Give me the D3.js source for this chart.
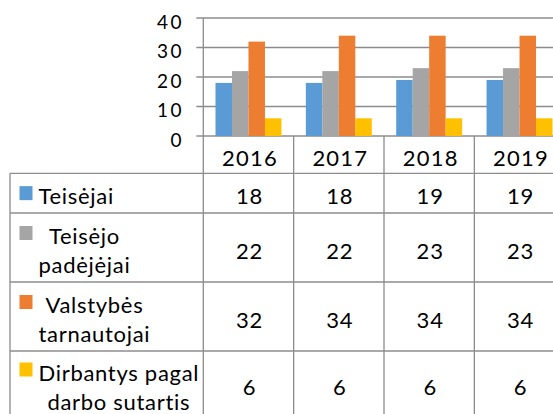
<!DOCTYPE html>
<html>
<head>
<meta charset="utf-8">
<script src="https://cdn.jsdelivr.net/npm/d3@7"></script>
<style>
  html, body { margin: 0; padding: 0; background: #fff; }
  svg { display: block; font-family: Lato, "Noto Sans", sans-serif; }
</style>
</head>
<body>
<svg id="chart" width="553" height="414"></svg>
<script>
// ---- data ----
const years = ["2016", "2017", "2018", "2019"];
const seriesNames = ["Teisėjai", "Teisėjo padėjėjai", "Valstybės tarnautojai", "Dirbantys pagal darbo sutartis"];
const seriesLines = [["Teisėjai"], ["Teisėjo", "padėjėjai"], ["Valstybės", "tarnautojai"], ["Dirbantys pagal", "darbo sutartis"]];
const teisejai = [18, 18, 19, 19];
const padejejai = [22, 22, 23, 23];
const valstybesTarnautojai = [32, 34, 34, 34];
const darboSutartis = [6, 6, 6, 6];
const yTicks = [0, 10, 20, 30, 40];
const colors = ["#5B9BD5", "#A5A5A5", "#ED7D31", "#FFC000"];

const seriesValues = [teisejai, padejejai, valstybesTarnautojai, darboSutartis];

// ---- layout ----
const W = 553, H = 414;
const axisX = 203.3;
const catW = 90.35;
const yTop = 18, yBottom = 136;
const tableLeft = 10;
const rowEdges = [136, 173.3, 213, 282, 351, 417];
const lineColor = "#8C8C8C";

const svg = d3.select("#chart");

const x0 = d3.scaleBand().domain(years).range([axisX, axisX + catW * years.length]).paddingInner(0).paddingOuter(0);
const x1 = d3.scaleBand().domain(d3.range(seriesNames.length)).range([0, x0.bandwidth()]).paddingInner(0).paddingOuter(0.74);
const y = d3.scaleLinear().domain([0, 40]).range([yBottom, yTop]);

// gridlines + outward tick marks
const grid = svg.append("g");
grid.selectAll("line").data(yTicks).join("line")
  .attr("x1", axisX - 7).attr("x2", W)
  .attr("y1", d => y(d)).attr("y2", d => y(d))
  .attr("stroke", lineColor).attr("stroke-width", 1.3);

// y labels
svg.append("g").selectAll("text").data(yTicks).join("text")
  .attr("x", 184).attr("y", d => y(d) + 10.5)
  .attr("text-anchor", "end")
  .attr("font-size", 19)
  .attr("letter-spacing", 2.5)
  .attr("fill", "#000")
  .text(d => d);

// bars
const groups = svg.append("g").selectAll("g").data(years).join("g")
  .attr("transform", d => `translate(${x0(d)},0)`);
groups.selectAll("rect")
  .data((yr, i) => seriesValues.map((vals, s) => ({ s, v: vals[i] })))
  .join("rect")
  .attr("x", d => x1(d.s))
  .attr("width", x1.bandwidth())
  .attr("y", d => y(d.v))
  .attr("height", d => y(0) - y(d.v))
  .attr("fill", d => colors[d.s]);

// axis line (vertical)
svg.append("line")
  .attr("x1", axisX).attr("x2", axisX)
  .attr("y1", y(40)).attr("y2", H)
  .attr("stroke", lineColor).attr("stroke-width", 1.3);

// table: vertical category lines
const catEdges = years.map(d => x0(d)).concat([x0(years[years.length - 1]) + x0.bandwidth()]);
svg.append("g").selectAll("line").data(catEdges.slice(1)).join("line")
  .attr("x1", d => d).attr("x2", d => d)
  .attr("y1", rowEdges[0]).attr("y2", H)
  .attr("stroke", lineColor).attr("stroke-width", 1.3);
// table left border
svg.append("line")
  .attr("x1", tableLeft).attr("x2", tableLeft)
  .attr("y1", rowEdges[1]).attr("y2", H)
  .attr("stroke", lineColor).attr("stroke-width", 1.3);
// table horizontal lines
svg.append("g").selectAll("line").data(rowEdges.slice(1, 5)).join("line")
  .attr("x1", tableLeft).attr("x2", W)
  .attr("y1", d => d).attr("y2", d => d)
  .attr("stroke", lineColor).attr("stroke-width", 1.3);

// year labels
svg.append("g").selectAll("text").data(years).join("text")
  .attr("x", d => x0(d) + x0.bandwidth() / 2 + 1.5)
  .attr("y", (rowEdges[0] + rowEdges[1]) / 2 + 11)
  .attr("text-anchor", "middle")
  .attr("font-size", 22)
  .attr("letter-spacing", 1.2)
  .attr("fill", "#000")
  .text(d => d);

// values
seriesValues.forEach((vals, s) => {
  const cy = (rowEdges[s + 1] + rowEdges[s + 2]) / 2;
  svg.append("g").selectAll("text").data(vals).join("text")
    .attr("x", (d, i) => x0(years[i]) + x0.bandwidth() / 2 + 1)
    .attr("y", cy + 11)
    .attr("text-anchor", "middle")
    .attr("font-size", 22)
    .attr("letter-spacing", 0.8)
    .attr("fill", "#000")
    .text(d => d);
});

// legend cells
const textLeft = 38.5;
const lineH = 29;
seriesLines.forEach((lines, s) => {
  const cy = (rowEdges[s + 1] + rowEdges[s + 2]) / 2;
  const firstBase = cy - (lines.length - 1) * lineH / 2 + 11;
  const g = svg.append("g");
  const texts = g.selectAll("text").data(lines).join("text")
    .attr("y", (d, i) => firstBase + i * lineH)
    .attr("font-size", 22)
    .attr("letter-spacing", 0.7)
    .attr("fill", "#000")
    .attr("text-anchor", "middle")
    .text(d => d);
  let maxW = 0;
  texts.each(function () { maxW = Math.max(maxW, this.getComputedTextLength()); });
  texts.attr("x", textLeft + maxW / 2);
  g.append("rect")
    .attr("x", 19.5).attr("y", firstBase - 18)
    .attr("width", 13).attr("height", 14)
    .attr("fill", colors[s]);
});
</script>
</body>
</html>
